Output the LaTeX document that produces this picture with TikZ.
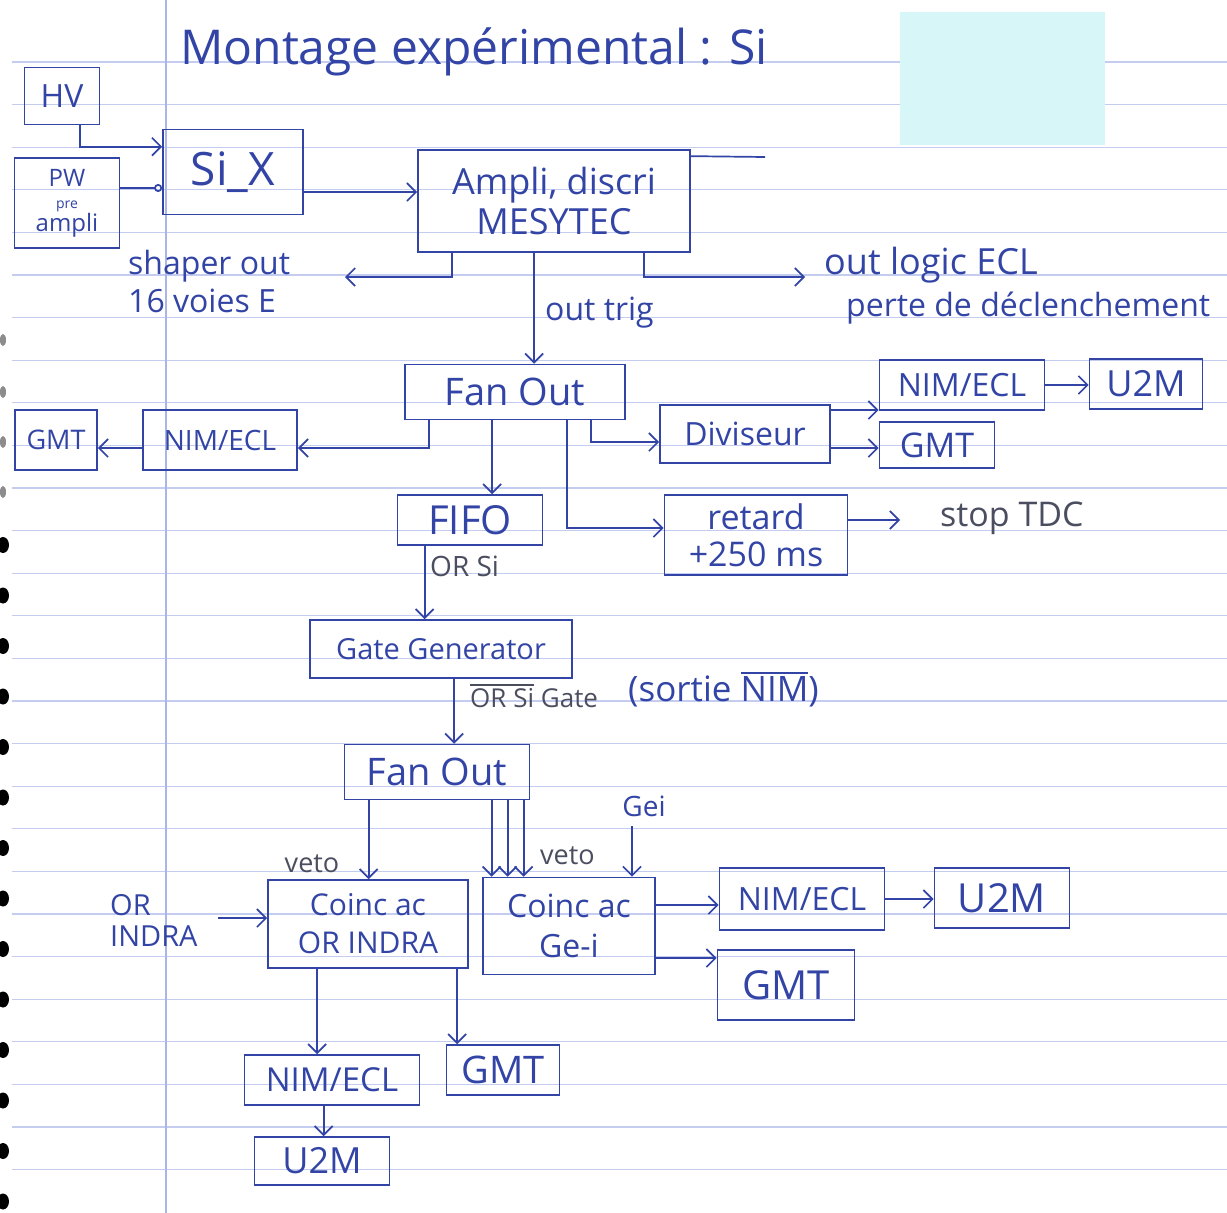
\documentclass[tikz,border=0pt]{standalone}
\usepackage{fontspec}
\setmainfont{Open Sans}
\usetikzlibrary{arrows.meta}
\definecolor{inkc}{RGB}{50,68,165}
\definecolor{pencil}{RGB}{75,78,95}
\definecolor{rulec}{RGB}{196,204,240}
\definecolor{marginc}{RGB}{170,182,232}
\definecolor{cyanpad}{RGB}{214,246,248}
\newcommand\myover[1]{{\setbox0\hbox{#1}\rlap{\rule[\dimexpr\ht0+3pt\relax]{\wd0}{1.5pt}}\box0}}
\tikzset{
  fs/.style={font=\fontsize{#1}{#1}\selectfont},
  ink/.style={draw=inkc, line width=1.7pt},
  box/.style={ink, rectangle, inner sep=0pt, text=inkc, fs=30, align=center},
  arr/.style={ink, -{Straight Barb[length=9pt,width=18pt]}},
  lab/.style={text=inkc, fs=32, align=left, inner sep=0pt},
  pen/.style={text=pencil, fs=27, align=left, inner sep=0pt}
}
\begin{document}
\begin{tikzpicture}[x=1pt,y=-1pt]
\useasboundingbox (0,0) rectangle (1227,1213);
\fill[white] (0,0) rectangle (1227,1213);
% ruled paper
\foreach \k in {0,...,26} \draw[rulec, line width=1.2pt] (12,{62+42.6*\k}) -- (1227,{62+42.6*\k});
\draw[marginc, line width=1.2pt] (166,0) -- (166,1213);
\fill[cyanpad] (900,12) rectangle (1105,145);
\foreach \yy in {340,392,442,492} \fill[black!45] (3,\yy) ellipse (3 and 6);
\foreach \yy in {545,595.5,...,1212} \fill[black] (3,\yy) ellipse (6 and 8);

% title
\node[lab, fs=48, anchor=base west] (title) at (180,64) {Montage expérimental : Si};

% boxes
\node[box, fs=32, minimum width=75, minimum height=57] (hv) at (62,96) {HV};
\node[box, fs=24, minimum width=105, minimum height=90] (pw) at (67,203) {PW\\[-2pt]{\fontsize{14}{14}\selectfont pre}\\[-1pt]ampli};
\node[box, fs=46, minimum width=140, minimum height=85] (six) at (233,172) {Si\_X};
\node[box, fs=36, minimum width=272, minimum height=102] (ampli) at (554,201) {Ampli, discri\\[4pt]MESYTEC};
\node[box, fs=38, minimum width=220, minimum height=55] (fo1) at (515,392) {Fan Out};
\node[box, fs=28, minimum width=154, minimum height=60] (nimL) at (220,440) {NIM/ECL};
\node[box, fs=27, minimum width=82, minimum height=60] (gmtL) at (56,440) {GMT};
\node[box, fs=40, minimum width=145, minimum height=50] (fifo) at (470,520) {FIFO};
\node[box, fs=32, minimum width=170, minimum height=58] (div) at (745,434) {Diviseur};
\node[box, fs=32, minimum width=165, minimum height=50] (nimR) at (962,385) {NIM/ECL};
\node[box, fs=36, minimum width=113, minimum height=50] (u2mR) at (1146,384) {U2M};
\node[box, fs=34, minimum width=115, minimum height=46] (gmtR) at (937,445) {GMT};
\node[box, fs=34, minimum width=183, minimum height=80] (ret) at (756,535) {retard\\[3pt]+250 ms};
\node[box, fs=29, minimum width=262, minimum height=58] (gate) at (441,649) {Gate Generator};
\node[box, fs=38, minimum width=185, minimum height=55] (fo2) at (437,772) {Fan Out};
\node[box, fs=30, minimum width=200, minimum height=88] (c1) at (368,924) {Coinc ac\\[8pt]OR INDRA};
\node[box, fs=32, minimum width=172, minimum height=97] (c2) at (569,926) {Coinc ac\\[8pt]Ge-i};
\node[box, fs=32, minimum width=165, minimum height=62] (nim3) at (802,899) {NIM/ECL};
\node[box, fs=40, minimum width=135, minimum height=60] (u2m3) at (1002,898) {U2M};
\node[box, fs=40, minimum width=137, minimum height=70] (gmt3) at (786,985) {GMT};
\node[box, fs=33, minimum width=175, minimum height=50] (nim4) at (332,1080) {NIM/ECL};
\node[box, fs=38, minimum width=113, minimum height=50] (gmt4) at (503,1070) {GMT};
\node[box, fs=36, minimum width=135, minimum height=48] (u2m4) at (322,1161) {U2M};

% labels
\node[lab, anchor=north west] (shaper) at (128,250) {shaper out\\[6pt]16 voies E};
\node[lab, anchor=west] (outtrig) at (545,313) {out trig};
\node[lab, fs=36, anchor=west] (outlogic) at (824,265) {out logic ECL};
\node[lab, anchor=west] (perte) at (846,308) {perte de déclenchement};
\node[pen, fs=28, anchor=west] (orsi) at (430,566) {OR Si};
\node[pen, fs=34, anchor=west] (stoptdc) at (940,518) {stop TDC};
\node[pen, fs=26, anchor=west] (orsigate) at (470,696) {\myover{OR Si} Gate};
\node[lab, fs=35, anchor=west] (sortie) at (628,690) {(sortie \myover{NIM})};
\node[lab, fs=28, anchor=center] (gei) at (644,806) {Gei};
\node[pen, anchor=center] (veto1) at (312,864) {veto};
\node[pen, anchor=west] (veto2) at (540,856) {veto};
\node[lab, fs=29, anchor=west] (orindra) at (110,920) {OR\\[2pt]INDRA};

% named tap points
\coordinate (hvT) at ([xshift=18]hv.south);
\coordinate (sixA) at ([yshift=-18]six.north west);
\coordinate (pwo) at ([yshift=15]pw.east);
\coordinate (sixo) at ([yshift=-20]six.east);
\coordinate (amNE) at ([yshift=-7]ampli.north east);
\coordinate (stubend) at (765,157);
\coordinate (amS1) at ([xshift=35]ampli.south west);
\coordinate (amS2) at ([xshift=117]ampli.south west);
\coordinate (amS3) at ([xshift=227]ampli.south west);
\coordinate (shapeend) at (345,277);
\coordinate (logicend) at (805,277);
\coordinate (f1a) at ([xshift=25]fo1.south west);
\coordinate (f1b) at ([xshift=88]fo1.south west);
\coordinate (f1c) at ([xshift=163]fo1.south west);
\coordinate (f1d) at ([xshift=187]fo1.south west);
\coordinate (nimLi) at ([yshift=-8]nimL.east);
\coordinate (nimLo) at ([yshift=-8]nimL.west);
\coordinate (retI) at ([yshift=7]ret.west);
\coordinate (divI) at ([yshift=-8]div.west);
\coordinate (divA) at ([yshift=24]div.east);
\coordinate (divB) at ([yshift=-14]div.east);
\coordinate (retO) at ([yshift=15]ret.east);
\coordinate (stopend) at (900,520);
\coordinate (fifoS) at ([xshift=28]fifo.south west);
\coordinate (gateS) at ([xshift=145]gate.south west);
\coordinate (f2a) at ([xshift=25]fo2.south west);
\coordinate (f2b) at ([xshift=148]fo2.south west);
\coordinate (f2c) at ([xshift=164]fo2.south west);
\coordinate (f2d) at ([xshift=180]fo2.south west);
\coordinate (geiS) at (632,826);
\coordinate (indraS) at (218,918);
\coordinate (c2a) at ([yshift=21]c2.east);
\coordinate (c2b) at ([yshift=-32]c2.east);
\coordinate (c1a) at ([xshift=50]c1.south west);
\coordinate (c1b) at ([xshift=190]c1.south west);
\coordinate (n4a) at ([xshift=80]nim4.south west);

% connectors
\draw[arr] (hvT) |- (sixA);
\draw[ink, -{Circle[open,length=8pt]}] (pwo) -- (pwo -| six.west);
\draw[arr] (sixo) -- (sixo -| ampli.west);
\draw[ink] (amNE) -- (stubend);
\draw[arr] (amS1) |- (shapeend);
\draw[arr] (amS2) -- (amS2 |- fo1.north);
\draw[arr] (amS3) |- (logicend);
\draw[arr] (f1a) |- (nimLi);
\draw[arr] (nimLo) -- (nimLo -| gmtL.east);
\draw[arr] (f1b) -- (f1b |- fifo.north);
\draw[arr] (f1c) |- (retI);
\draw[arr] (f1d) |- (divI);
\draw[arr] (divA) -- (divA -| nimR.west);
\draw[arr] (divB) -- (divB -| gmtR.west);
\draw[arr] (nimR.east) -- (nimR.east -| u2mR.west);
\draw[arr] (retO) -- (stopend);
\draw[arr] (fifoS) -- (fifoS |- gate.north);
\draw[arr] (gateS) -- (gateS |- fo2.north);
\draw[arr] (f2a) -- (f2a |- c1.north);
\draw[arr] (f2b) -- (f2b |- c2.north);
\draw[arr] (f2c) -- (f2c |- c2.north);
\draw[arr] (f2d) -- (f2d |- c2.north);
\draw[arr] (geiS) -- (geiS |- c2.north);
\draw[arr] (indraS) -- (indraS -| c1.west);
\draw[arr] (c2a) -- (c2a -| nim3.west);
\draw[arr] (c2b) -- (c2b -| gmt3.west);
\draw[arr] (nim3.east) -- (nim3.east -| u2m3.west);
\draw[arr] (c1a) -- (c1a |- nim4.north);
\draw[arr] (c1b) -- (c1b |- gmt4.north);
\draw[arr] (n4a) -- (n4a |- u2m4.north);
\end{tikzpicture}
\end{document}
